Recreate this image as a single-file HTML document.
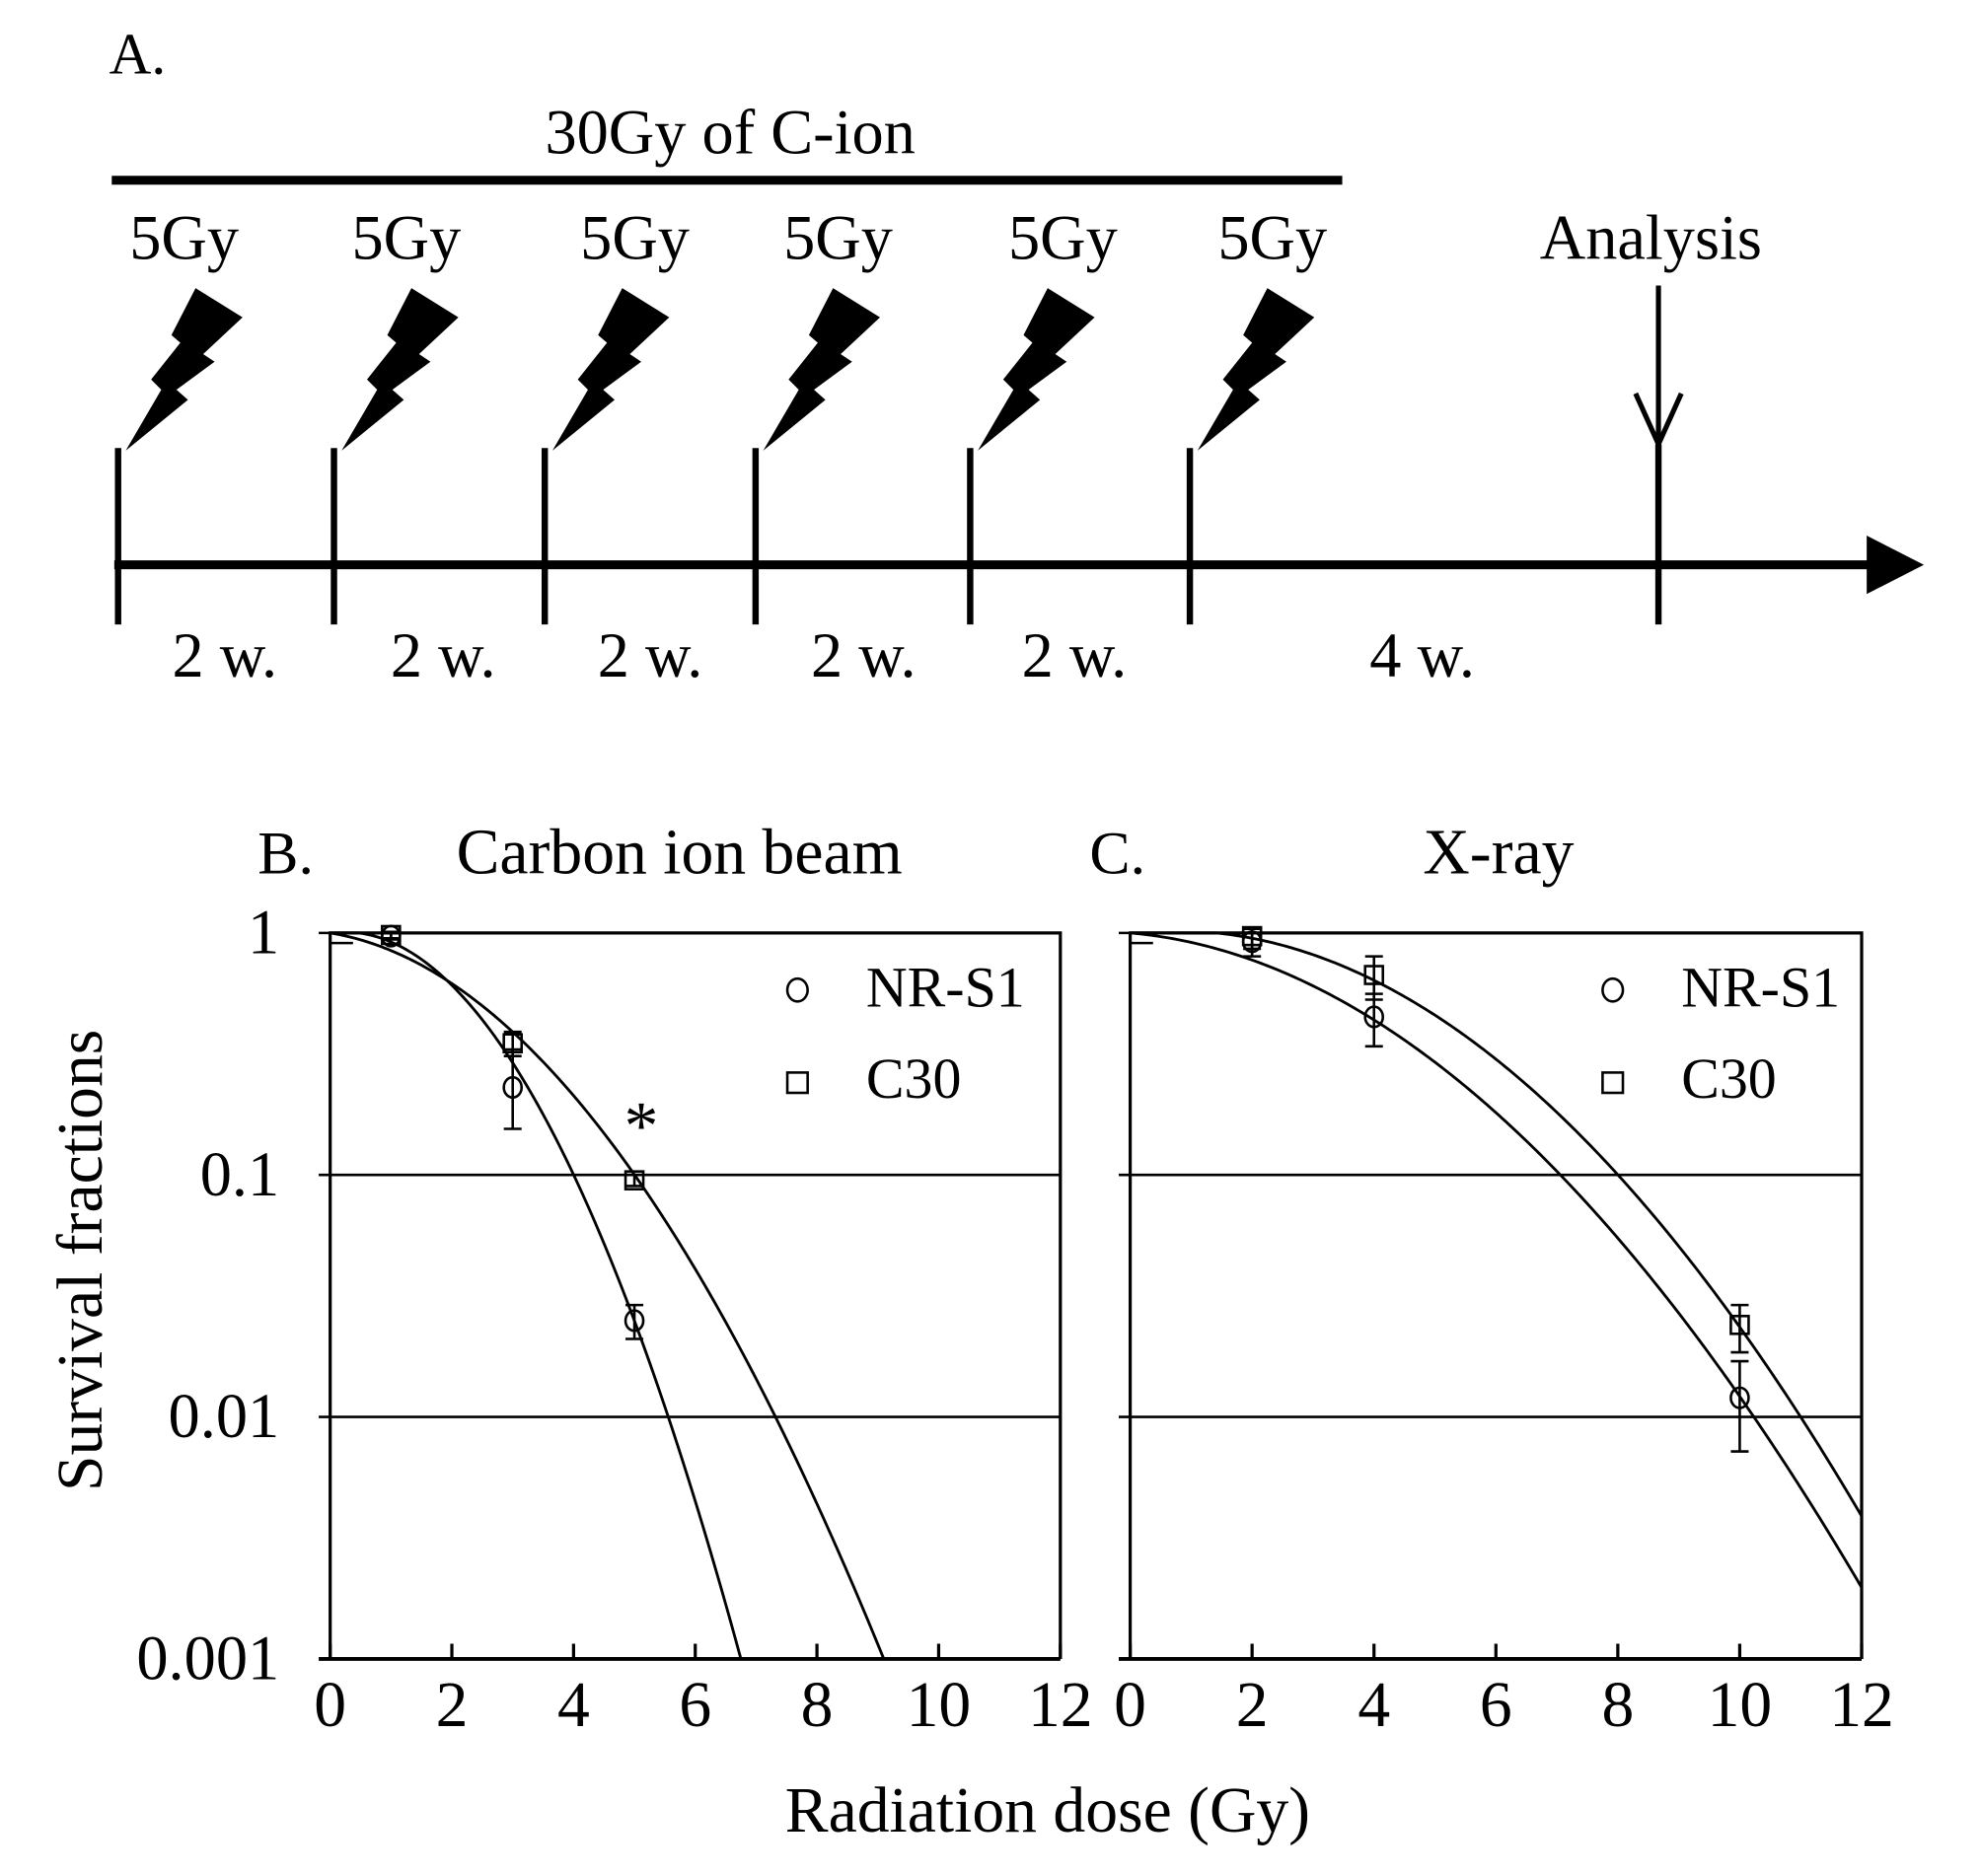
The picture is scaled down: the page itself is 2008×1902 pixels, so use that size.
<!DOCTYPE html>
<html><head><meta charset="utf-8"><style>
html,body{margin:0;padding:0;background:#fff;}
svg{display:block;}
text{font-family:"Liberation Serif",serif;fill:#000;}
</style></head>
<body>
<svg id="fig" width="2008" height="1902" viewBox="0 0 1560 1478" preserveAspectRatio="none" xmlns="http://www.w3.org/2000/svg">
<g id="panelA">
<text x="86" y="58" font-size="46">A.</text>
<text x="575" y="121" font-size="50" text-anchor="middle">30Gy of C-ion</text>
<line x1="88" y1="142" x2="1057" y2="142" stroke="#000" stroke-width="7"/>
<line x1="90" y1="445" x2="1475" y2="445" stroke="#000" stroke-width="7"/>
<polygon points="1470,422 1515,445 1470,468" fill="#000"/>
<line x1="1306" y1="350" x2="1306" y2="492" stroke="#000" stroke-width="5"/>
<line x1="1306" y1="225" x2="1306" y2="345" stroke="#000" stroke-width="4"/>
<polyline points="1288,310 1306,350 1324,310" fill="none" stroke="#000" stroke-width="4"/>
<text x="1300" y="204" font-size="50" text-anchor="middle">Analysis</text>
<text x="1120" y="533" font-size="50" text-anchor="middle">4 w.</text>
</g>
<g id="panelB"></g>
<g id="panelC"></g>
<text x="80" y="993" font-size="51" text-anchor="middle" transform="rotate(-90 80 993)">Survival fractions</text>
<text x="825" y="1443" font-size="51" text-anchor="middle">Radiation dose (Gy)</text>
</svg>
<script>
// Timeline data
const fractionX = [93, 263, 429, 595, 764, 937];
const fractionLabels = ["5Gy","5Gy","5Gy","5Gy","5Gy","5Gy"];
const labelX = [145, 320, 500, 660, 837, 1002];
const intervalLabels = ["2 w.","2 w.","2 w.","2 w.","2 w."];
const intervalX = [177, 349, 512, 680, 846];

// Chart data
const xTicks = [0,2,4,6,8,10,12];
const yTicks = [1,0.1,0.01,0.001];
const yTickLabels = ["1","0.1","0.01","0.001"];
// Carbon ion beam
const bDose = [1,3,5];
const bNR = [0.97,0.23,0.025];
const bNRlo = [0.94,0.155,0.021];
const bNRhi = [1.0,0.33,0.029];
const bC30 = [0.98,0.35,0.095];
const bC30lo = [0.95,0.31,0.09];
const bC30hi = [1.01,0.39,0.1];
const bFitNR = [-0.077,0.163];   // alpha, beta
const bFitC30 = [0.095,0.073];
// X-ray
const cDose = [2,4,10];
const cNR = [0.92,0.45,0.012];
const cNRlo = [0.8,0.34,0.0072];
const cNRhi = [1.0,0.56,0.017];
const cC30 = [0.97,0.67,0.024];
const cC30lo = [0.86,0.53,0.0185];
const cC30hi = [1.04,0.8,0.029];
const cFitNR = [0.051,0.039];
const cFitC30 = [-0.062,0.0437];

const NS="http://www.w3.org/2000/svg";
function mk(parent,tag,attrs){const e=document.createElementNS(NS,tag);for(const k in attrs)e.setAttribute(k,attrs[k]);parent.appendChild(e);return e;}

const A=document.getElementById('panelA');
const bolt=[[6,2],[55,-38],[46,-46],[76,-68],[67,-74],[98,-103],[61,-126],[42,-89],[49,-83],[26,-54],[34,-46]];
fractionX.forEach((x,i)=>{
  const t=mk(A,'line',{x1:x,y1:353,x2:x,y2:492,stroke:'#000','stroke-width':5});
  
  
  const p=mk(A,'polygon',{points:bolt.map(q=>(x+q[0])+','+(353+q[1])).join(' '),fill:'#000'});
  
  
  const l=mk(A,'text',{x:labelX[i],y:204,'font-size':50,'text-anchor':'middle'});
  l.textContent=fractionLabels[i];
  
  
});
intervalLabels.forEach((s,i)=>{
  const l=mk(A,'text',{x:intervalX[i],y:533,'font-size':50,'text-anchor':'middle'});
  l.textContent=s;
  
  
});

function panel(g,x0,x1,opt){
  const yTop=735,yBot=1307;
  const sx=d=>x0+(d-0)/(12-0)*(x1-x0);
  const sy=v=>yTop+(Math.log10(1)-Math.log10(v))/3*(yBot-yTop);
  const lt=mk(g,'text',{x:opt.lx,y:688,'font-size':48});lt.textContent=opt.letter;
  
  
  const tt=mk(g,'text',{x:opt.tx,y:688,'font-size':51,'text-anchor':'middle'});tt.textContent=opt.title;
  
  
  const fr=mk(g,'path',{d:`M${x0},${yBot}V${yTop}H${x1}V${yBot}`,fill:'none',stroke:'#000','stroke-width':2.5});
  
  
  yTicks.forEach((v,i)=>{
    const y=sy(v);
    const ln=mk(g,'line',{x1:x0-9,y1:y,x2:x1,y2:y,stroke:'#000','stroke-width':i==3?3:2});
    
    
    if(opt.yLabels){
      const t=mk(g,'text',{x:x0-40,y:y+16,'font-size':50,'text-anchor':'end'});t.textContent=yTickLabels[i];
      
      
    }
  });
  xTicks.forEach(d=>{
    const x=sx(d);
    const tk=mk(g,'line',{x1:x,y1:yBot,x2:x,y2:yBot-12,stroke:'#000','stroke-width':2.5});
    
    
    const t=mk(g,'text',{x:x,y:1360,'font-size':51,'text-anchor':'middle'});t.textContent=d;
    
    
  });
  [opt.fitNR,opt.fitC30].forEach((f,k)=>{
    let d='';
    for(let i=0;i<=240;i++){
      const D=i*12/240;const S=Math.exp(-f[0]*D-f[1]*D*D);
      if(S<0.001){const Dm=(-f[0]+Math.sqrt(f[0]*f[0]+4*f[1]*6.9078))/(2*f[1]);d+=`L${sx(Dm)},${sy(0.001)}`;break;}
      d+=(i?'L':'M')+sx(D)+','+sy(Math.min(S,1));
    }
    const c=mk(g,'path',{d:d,fill:'none',stroke:'#000','stroke-width':2.2});
    
    
  });
  const z=mk(g,'line',{x1:sx(0),y1:sy(1)+8,x2:sx(0)+18,y2:sy(1)+8,stroke:'#000','stroke-width':2});
  
  
  function pts(vals,lo,hi,shape){
    opt.dose.forEach((D,i)=>{
      const x=sx(D),y=sy(vals[i]);
      const e=mk(g,'path',{d:`M${x},${sy(lo[i])}V${sy(hi[i])}M${x-7},${sy(lo[i])}H${x+7}M${x-7},${sy(hi[i])}H${x+7}`,stroke:'#000','stroke-width':2,fill:'none'});
      
      
      let m;
      if(shape==='c') m=mk(g,'ellipse',{cx:x,cy:y,rx:7,ry:8,fill:'none',stroke:'#000','stroke-width':2});
      else m=mk(g,'rect',{x:x-7,y:y-7,width:14,height:14,fill:'none',stroke:'#000','stroke-width':2});
      
      
    });
  }
  pts(opt.nr,opt.nrlo,opt.nrhi,'c');
  pts(opt.c30,opt.c30lo,opt.c30hi,'s');
  const lx=opt.legX;
  const lc=mk(g,'ellipse',{cx:lx,cy:780,rx:8,ry:9,fill:'none',stroke:'#000','stroke-width':2});
  
  
  const l1=mk(g,'text',{x:lx+54,y:793,'font-size':45});l1.textContent='NR-S1';
  
  
  const ls=mk(g,'rect',{x:lx-8,y:845,width:16,height:16,fill:'none',stroke:'#000','stroke-width':2});
  
  
  const l2=mk(g,'text',{x:lx+54,y:865,'font-size':45});l2.textContent='C30';
  
  
}
panel(document.getElementById('panelB'),260,835,{letter:'B.',lx:203,title:'Carbon ion beam',tx:535,yLabels:true,
  dose:bDose,nr:bNR,nrlo:bNRlo,nrhi:bNRhi,c30:bC30,c30lo:bC30lo,c30hi:bC30hi,fitNR:bFitNR,fitC30:bFitC30,legX:628});
panel(document.getElementById('panelC'),890,1466,{letter:'C.',lx:858,title:'X-ray',tx:1180,yLabels:false,
  dose:cDose,nr:cNR,nrlo:cNRlo,nrhi:cNRhi,c30:cC30,c30lo:cC30lo,c30hi:cC30hi,fitNR:cFitNR,fitC30:cFitC30,legX:1270});
const ast=mk(document.getElementById('panelB'),'text',{x:505,y:905,'font-size':54,'text-anchor':'middle','font-family':'Liberation Sans, sans-serif'});
ast.textContent='*';


</script>
</body></html>
